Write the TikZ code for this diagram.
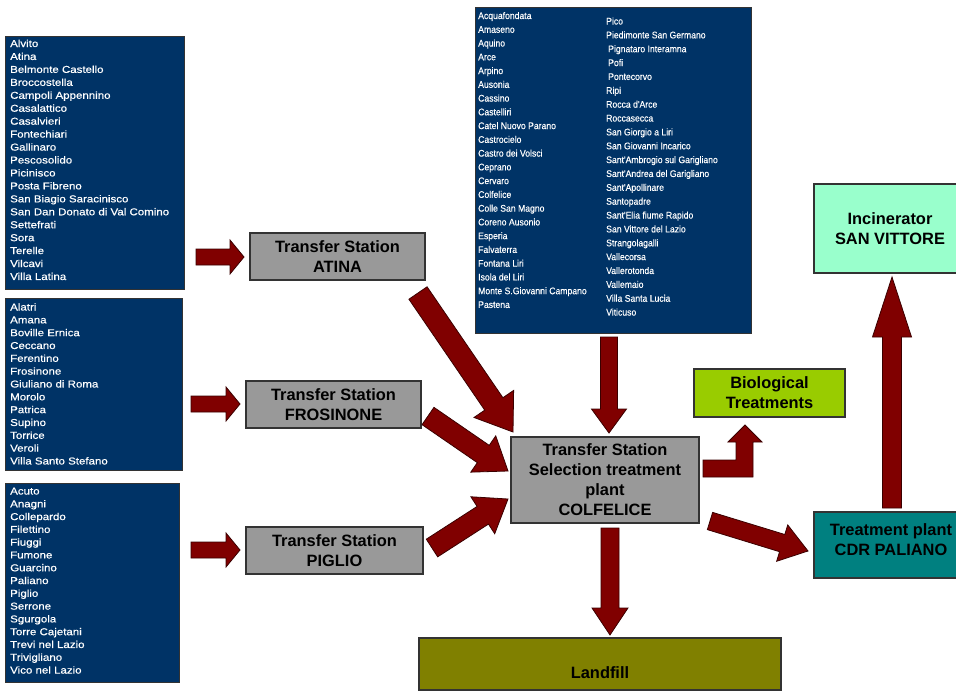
\documentclass[tikz,border=0pt]{standalone}
\usepackage{fontspec}
\setmainfont{Liberation Sans}
\newfontfamily\listfont[FakeStretch=1.15,FakeBold=0.6]{Liberation Sans}
\newfontfamily\toplistfont[FakeStretch=0.9,FakeBold=0.3]{Liberation Sans}
\usetikzlibrary{calc}
\definecolor{navy}{HTML}{003366}
\definecolor{plantgray}{HTML}{999999}
\definecolor{arrowred}{HTML}{800000}
\definecolor{arrowedge}{HTML}{3A0000}
\definecolor{biogreen}{HTML}{99CC00}
\definecolor{incmint}{HTML}{99FFCC}
\definecolor{cdrteal}{HTML}{008080}
\definecolor{landolive}{HTML}{808000}
\definecolor{boxedge}{HTML}{333333}
\tikzset{
  listbox/.style={draw=boxedge, line width=1pt, fill=navy, inner sep=0pt},
  listitem/.style={anchor=base west, inner sep=0pt, text=white, font=\listfont\fontsize{10}{11}\selectfont},
  topitem/.style={anchor=base west, inner sep=0pt, text=white, font=\toplistfont\fontsize{9.6}{11}\selectfont},
  plant/.style={draw=boxedge, line width=1.2pt, inner sep=0pt, align=center, text=black,
    font=\bfseries\fontsize{16.4}{20}\selectfont},
  planttext/.style={inner sep=0pt, align=center, text=black, font=\bfseries\fontsize{16.4}{20}\selectfont},
  blockarrow/.style={fill=arrowred, draw=arrowedge, line width=0.8pt, line join=miter},
}
% #1 tail, #2 tip, #3 shaft half width, #4 head half width, #5 head length, #6 name
\newcommand\blockarrowdraw[6]{%
  \coordinate (#6-b) at ($(#2)!#5!(#1)$);
  \draw[blockarrow] ($(#1)!#3!90:(#2)$) -- ($(#6-b)!#3!90:(#2)$) -- ($(#6-b)!#4!90:(#2)$)
    -- (#2) -- ($(#6-b)!#4!-90:(#2)$) -- ($(#6-b)!#3!-90:(#2)$) -- ($(#1)!#3!-90:(#2)$) -- cycle;
}
\begin{document}
\begin{tikzpicture}[x=1pt,y=-1pt]
\useasboundingbox (0,0) rectangle (956,691);

% ---------- municipality lists ----------
\node[listbox, minimum width=179pt, minimum height=253pt] (listA) at (94.5,162.5) {};
\foreach \t [count=\i] in {Alvito, Atina, Belmonte Castello, Broccostella, Campoli Appennino,
  Casalattico, Casalvieri, Fontechiari, Gallinaro, Pescosolido, Picinisco, Posta Fibreno,
  San Biagio Saracinisco, San Dan Donato di Val Comino, Settefrati, Sora, Terelle, Vilcavi, Villa Latina}
  \node[listitem] (la\i) at (10,{47+12.944*(\i-1)}) {\t};

\node[listbox, minimum width=177pt, minimum height=172pt] (listB) at (93.5,384) {};
\foreach \t [count=\i] in {Alatri, Amana, Boville Ernica, Ceccano, Ferentino, Frosinone,
  Giuliano di Roma, Morolo, Patrica, Supino, Torrice, Veroli, Villa Santo Stefano}
  \node[listitem] (lb\i) at (10,{310.5+12.83*(\i-1)}) {\t};

\node[listbox, minimum width=174pt, minimum height=199pt] (listC) at (92,582.5) {};
\foreach \t [count=\i] in {Acuto, Anagni, Collepardo, Filettino, Fiuggi, Fumone, Guarcino,
  Paliano, Piglio, Serrone, Sgurgola, Torre Cajetani, Trevi nel Lazio, Trivigliano, Vico nel Lazio}
  \node[listitem] (lc\i) at (10,{494.5+12.79*(\i-1)}) {\t};

\node[listbox, minimum width=276pt, minimum height=326pt] (listD) at (613,170) {};
\foreach \t [count=\i] in {Acquafondata, Amaseno, Aquino, Arce, Arpino, Ausonia, Cassino,
  Castelliri, Catel Nuovo Parano, Castrocielo, Castro dei Volsci, Ceprano, Cervaro, Colfelice,
  Colle San Magno, Coreno Ausonio, Esperia, Falvaterra, Fontana Liri, Isola del Liri,
  Monte S.Giovanni Campano, Pastena}
  \node[topitem] (ld\i) at (478,{19+13.76*(\i-1)}) {\t};
\foreach \dx/\t [count=\i] in {0/Pico, 0/Piedimonte San Germano, 2/Pignataro Interamna, 2/Pofi,
  2/Pontecorvo, 0/Ripi, 0/Rocca d'Arce, 0/Roccasecca, 0/San Giorgio a Liri, 0/San Giovanni Incarico,
  0/Sant'Ambrogio sul Garigliano, 0/Sant'Andrea del Garigliano, 0/Sant'Apollinare, 0/Santopadre,
  0/Sant'Elia fiume Rapido, 0/San Vittore del Lazio, 0/Strangolagalli, 0/Vallecorsa,
  0/Vallerotonda, 0/Vallemaio, 0/Villa Santa Lucia, 0/Viticuso}
  \node[topitem] (le\i) at ({606+\dx},{24.5+13.86*(\i-1)}) {\t};

% ---------- plants ----------
\node[plant, fill=plantgray, minimum width=175pt, minimum height=47pt] (atina) at (337.5,256.5)
  {Transfer Station\\ATINA};
\node[plant, fill=plantgray, minimum width=175pt, minimum height=47pt] (fros) at (333.5,404.5)
  {Transfer Station\\FROSINONE};
\node[plant, fill=plantgray, minimum width=177pt, minimum height=47pt] (piglio) at (334.5,550.5)
  {Transfer Station\\PIGLIO};
\node[plant, fill=plantgray, minimum width=188pt, minimum height=86pt] (colf) at (605,480)
  {Transfer Station\\Selection treatment\\plant\\COLFELICE};
\node[plant, fill=biogreen, minimum width=151pt, minimum height=48pt] (bio) at (769.5,393)
  {Biological\\Treatments};
\node[plant, fill=incmint, minimum width=152pt, minimum height=89pt] (inc) at (890,228.5)
  {Incinerator\\SAN VITTORE};
\node[plant, fill=cdrteal, minimum width=152pt, minimum height=66pt] (cdr) at (890,545) {};
\node[planttext] (cdrtext) at (891,540) {Treatment plant\\CDR PALIANO};
\node[plant, fill=landolive, minimum width=362pt, minimum height=52pt] (land) at (600,664) {};
\node[planttext] (landtext) at (600,673) {Landfill};

% ---------- arrow end points ----------
\coordinate (a1t) at (196,257);  \coordinate (a1h) at (244,257);
\coordinate (a2t) at (191,404);  \coordinate (a2h) at (240,404);
\coordinate (a3t) at (191,550);  \coordinate (a3h) at (240,550);
\coordinate (a4t) at (418,293);  \coordinate (a4h) at (513,432);
\coordinate (a5t) at (428,416);  \coordinate (a5h) at (508,471);
\coordinate (a6t) at (432,548);  \coordinate (a6h) at (508,499);
\coordinate (a7t) at (609,337);  \coordinate (a7h) at (609,433);
\coordinate (a8t) at (610,528);  \coordinate (a8h) at (610,635);
\coordinate (a10t) at (710,521); \coordinate (a10h) at (808,551);
\coordinate (a11t) at (892,508); \coordinate (a11h) at (892,277);

\blockarrowdraw{a1t}{a1h}{8pt}{17pt}{14pt}{a1}
\blockarrowdraw{a2t}{a2h}{8pt}{17pt}{14pt}{a2}
\blockarrowdraw{a3t}{a3h}{8pt}{17pt}{14pt}{a3}
\blockarrowdraw{a4t}{a4h}{11pt}{24pt}{34pt}{a4}
\blockarrowdraw{a5t}{a5h}{10.5pt}{22pt}{30pt}{a5}
\blockarrowdraw{a6t}{a6h}{10.5pt}{22pt}{30pt}{a6}
\blockarrowdraw{a7t}{a7h}{8.5pt}{17.5pt}{24pt}{a7}
\blockarrowdraw{a8t}{a8h}{9pt}{18pt}{27pt}{a8}
\blockarrowdraw{a10t}{a10h}{9pt}{19pt}{27pt}{a10}
\blockarrowdraw{a11t}{a11h}{9.5pt}{19.5pt}{60pt}{a11}

% bent arrow COLFELICE -> Biological Treatments
\draw[blockarrow] (703,460) -- (736,460) -- (736,442) -- (728,442) -- (745,425) -- (762,442)
  -- (753,442) -- (753,477) -- (703,477) -- cycle;
\end{tikzpicture}
\end{document}
